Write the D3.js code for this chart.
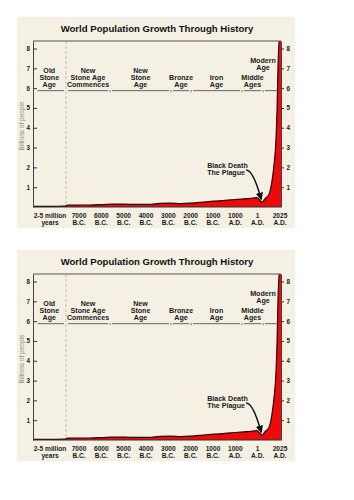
<!DOCTYPE html>
<html lang="en">
<head>
<meta charset="UTF-8">
<title>World Population Growth Through History</title>
<script src="https://d3js.org/d3.v7.min.js"></script>
<style>
    body { margin: 0; background: #fff; }
    svg text { font-family: Arial, "Liberation Sans", sans-serif; }
</style>
</head>
<body>
<svg id="chart" width="354" height="500"></svg>
<script>
// Etiquetas del eje X (posición = índice)
const xTickTop = ["2-5 million", "7000", "6000", "5000", "4000", "3000", "2000", "1000", "1000", "1", "2025"];
const xTickBottom = ["years", "B.C.", "B.C.", "B.C.", "B.C.", "B.C.", "B.C.", "B.C.", "A.D.", "A.D.", "A.D."];
const yTicks = [1, 2, 3, 4, 5, 6, 7, 8];

// Población (miles de millones), x en unidades de índice
const popX = [-0.6, 0, 0.48, 0.62, 1, 1.49, 2.03, 2.52, 3.06, 3.55, 4.09, 4.63, 5.08, 5.57, 6.06, 6.55, 7.05, 7.54, 7.99, 8.48, 8.79, 8.97, 9.2, 9.33, 9.51, 9.64, 9.73, 9.82, 9.87, 9.91, 9.96, 10.08];
const popY = [0.03, 0.03, 0.04, 0.09, 0.1, 0.1, 0.12, 0.15, 0.15, 0.13, 0.13, 0.18, 0.2, 0.17, 0.2, 0.25, 0.3, 0.33, 0.38, 0.42, 0.45, 0.48, 0.25, 0.42, 0.65, 1.3, 2.1, 3.4, 5, 7, 8.4, 8.4];

// Eras
const eraNames = [["Old", "Stone", "Age"], ["New", "Stone Age", "Commences"], ["New", "Stone", "Age"],
                  ["Bronze", "Age"], ["Iron", "Age"], ["Middle", "Ages"], ["Modern", "Age"]];
const eraBreaks = [0.55, 2.39, 5.12, 6.02, 8.30, 9.24];

// Peste negra
const plagueX = 9.2, plagueY = 0.25;
const plagueText = ["Black Death", "The Plague"];

const titleText = "World Population Growth Through History";
const yLabel = "Billions of people";

const data = popX.map((d, i) => [d, popY[i]]);

const svg = d3.select("#chart");

svg.append("defs").append("marker")
   .attr("id", "arrow")
   .attr("viewBox", "0 -5 10 10")
   .attr("refX", 8).attr("refY", 0)
   .attr("markerWidth", 8).attr("markerHeight", 8)
   .attr("markerUnits", "userSpaceOnUse")
   .attr("orient", "auto")
   .append("path")
   .attr("d", "M0,-4.5L10,0L0,4.5Z")
   .attr("fill", "#111");

const panelW = 278, panelH = 211;
const margin = {top: 24, right: 14, bottom: 21, left: 16};
const width = panelW - margin.left - margin.right;
const height = panelH - margin.top - margin.bottom;

function drawPanel(px, py) {
    const panel = svg.append("g").attr("transform", `translate(${px},${py})`);

    panel.append("rect")
         .attr("width", panelW).attr("height", panelH)
         .attr("fill", "#f4f1e4");

    panel.append("text")
         .attr("x", 140).attr("y", 14.5)
         .attr("text-anchor", "middle")
         .attr("font-size", "9.6px").attr("font-weight", "bold")
         .attr("fill", "#111")
         .text(titleText);

    const g = panel.append("g").attr("transform", `translate(${margin.left},${margin.top})`);

    const x = d3.scaleLinear().domain([0, 1, 10]).range([17, 46, 247]);
    const y = d3.scaleLinear().domain([0, 8.38]).range([height, 0]);

    // Línea discontinua
    g.append("line")
     .attr("x1", x(eraBreaks[0])).attr("x2", x(eraBreaks[0]))
     .attr("y1", 0).attr("y2", height)
     .attr("stroke", "#bdbdb5").attr("stroke-width", 1)
     .attr("stroke-dasharray", "3,2");

    // Área
    const area = d3.area()
                   .x(d => x(d[0]))
                   .y0(height)
                   .y1(d => y(d[1]))
                   .curve(d3.curveMonotoneX);
    const line = d3.line()
                   .x(d => x(d[0]))
                   .y(d => y(d[1]))
                   .curve(d3.curveMonotoneX);

    const clipId = "clip" + py;
    g.append("clipPath").attr("id", clipId)
     .append("rect").attr("width", width).attr("height", height);

    g.append("path")
     .datum(data)
     .attr("clip-path", `url(#${clipId})`)
     .attr("fill", "#ee0a0a")
     .attr("d", area);

    g.append("path")
     .datum(data)
     .attr("clip-path", `url(#${clipId})`)
     .attr("fill", "none")
     .attr("stroke", "#2a0000")
     .attr("stroke-width", 1.2)
     .attr("d", line);

    // Marco y ejes
    g.append("line").attr("x1", 0).attr("x2", width).attr("y1", 0).attr("y2", 0)
     .attr("stroke", "#555").attr("stroke-width", 1);
    g.append("line").attr("x1", 0).attr("x2", width).attr("y1", height).attr("y2", height)
     .attr("stroke", "#333").attr("stroke-width", 1.2);

    const left = g.append("g")
                  .call(d3.axisLeft(y).tickValues(yTicks).tickSize(-4).tickPadding(3).tickSizeOuter(0));
    const right = g.append("g")
                   .attr("transform", `translate(${width},0)`)
                   .call(d3.axisRight(y).tickValues(yTicks).tickSize(3).tickPadding(2.5).tickSizeOuter(0));
    [left, right].forEach(a => {
        a.select(".domain").attr("stroke", "#444");
        a.selectAll(".tick line").attr("stroke", "#333");
        a.selectAll("text")
         .attr("font-size", "6.3px").attr("font-weight", "bold")
         .attr("fill", "#1a1a1a")
         .style("font-family", "Arial, 'Liberation Sans', sans-serif");
    });

    // Título del eje Y
    g.append("text")
     .attr("transform", "rotate(-90)")
     .attr("x", -85).attr("y", -9)
     .attr("text-anchor", "middle")
     .attr("font-size", "6.5px")
     .attr("fill", "#8a8a82")
     .text(yLabel);

    // Etiquetas del eje X
    const xl = g.selectAll(".xlab")
                .data(xTickTop)
                .enter().append("text")
                .attr("class", "xlab")
                .attr("x", (d, i) => x(i))
                .attr("y", height + 10.5)
                .attr("text-anchor", "middle")
                .attr("font-size", "6.6px").attr("font-weight", "bold")
                .attr("fill", "#1a1a1a");
    xl.append("tspan").text(d => d);
    xl.append("tspan")
      .attr("x", (d, i) => x(i)).attr("dy", 7)
      .text((d, i) => xTickBottom[i]);

    // Línea de eras
    const eraY = y(6.0) + 2.5;
    const starts = [x(-0.6) + 5].concat(eraBreaks.map(b => x(b) + 2));
    const ends = eraBreaks.map(b => x(b) - 2).concat([x(9.9)]);
    g.selectAll(".eraseg")
     .data(starts)
     .enter().append("line")
     .attr("x1", d => d)
     .attr("x2", (d, i) => ends[i])
     .attr("y1", eraY).attr("y2", eraY)
     .attr("stroke", "#555").attr("stroke-width", 0.9);
    g.selectAll(".eratick")
     .data(eraBreaks.slice(1))
     .enter().append("line")
     .attr("x1", d => x(d)).attr("x2", d => x(d))
     .attr("y1", eraY - 0.5).attr("y2", eraY + 1.5)
     .attr("stroke", "#555").attr("stroke-width", 0.9);

    // Etiquetas de eras
    const bounds = [-0.6].concat(eraBreaks, [10.06]);
    eraNames.forEach((lines, i) => {
        const last = i === eraNames.length - 1;
        const cx = last ? x(bounds[i]) : (x(bounds[i]) + x(bounds[i + 1])) / 2;
        const baseY = last ? eraY - 20.5 : eraY - 3.5;
        const t = g.append("text")
                   .attr("text-anchor", "middle")
                   .attr("font-size", "7.1px").attr("font-weight", "bold")
                   .attr("fill", "#1a1a1a");
        lines.forEach((s, j) => {
            t.append("tspan")
             .attr("x", cx)
             .attr("y", baseY - (lines.length - 1 - j) * 7)
             .text(s);
        });
    });

    // Anotación de la peste negra
    const tipX = x(plagueX), tipY = y(plagueY) - 3;
    const pt = g.append("text")
                .attr("font-size", "7.1px").attr("font-weight", "bold")
                .attr("fill", "#1a1a1a");
    plagueText.forEach((s, j) => {
        pt.append("tspan").attr("x", tipX - 55).attr("y", tipY - 31 + j * 7).text(s);
    });
    g.append("path")
     .attr("d", `M${tipX - 16},${tipY - 29} Q${tipX - 9},${tipY - 29} ${tipX - 1},${tipY}`)
     .attr("fill", "none")
     .attr("stroke", "#111").attr("stroke-width", 1.5)
     .attr("marker-end", "url(#arrow)");
}

drawPanel(17, 17);
drawPanel(17, 250);
</script>
</body>
</html>
